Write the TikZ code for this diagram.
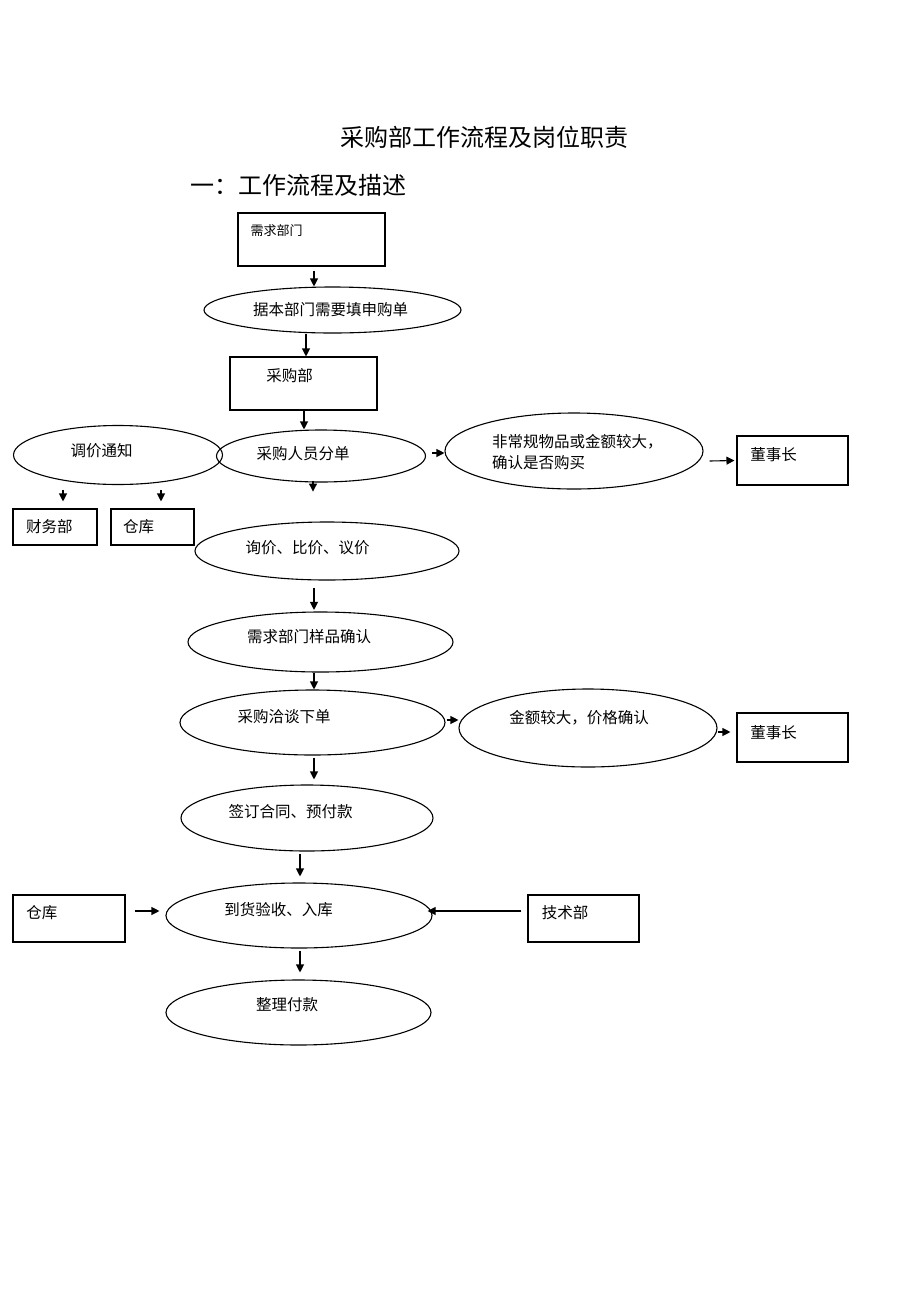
\documentclass[tikz,border=0pt]{standalone}
\usepackage{fontspec}
\setmainfont{Noto Sans CJK SC}
\usetikzlibrary{shapes.geometric,arrows.meta}
\tikzset{
  box/.style={draw,line width=1.1pt,rectangle,inner sep=0pt},
  oval/.style={draw,line width=1.1pt,ellipse,inner sep=0pt},
  txt/.style={inner sep=0pt,font=\fontsize{15.5}{21}\selectfont},
  small/.style={inner sep=0pt,font=\fontsize{13}{15}\selectfont},
  big/.style={inner sep=0pt,font=\fontsize{24}{26}\selectfont},
  arr/.style={line width=1.1pt,-{Triangle[length=8pt,width=8pt]}}
}
\begin{document}
\begin{tikzpicture}[x=1pt,y=-1pt]
\useasboundingbox (0,0) rectangle (920,1302);
% titles
\node[big] (title) at (484.5,137) {采购部工作流程及岗位职责};
\node[big,anchor=west] (sub) at (190,185) {一：工作流程及描述};
% shapes
\node[box,minimum width=147pt,minimum height=53pt] (n1) at (311.5,239.5) {};
\node[oval,minimum width=257pt,minimum height=46pt] (e1) at (332.5,310) {};
\node[box,minimum width=147pt,minimum height=53pt] (n2) at (303.5,383.5) {};
\node[oval,minimum width=209pt,minimum height=52pt] (e2) at (321,456) {};
\node[oval,minimum width=209pt,minimum height=59pt] (e3) at (118,455) {};
\node[box,minimum width=84pt,minimum height=36pt] (b1) at (55,527) {};
\node[box,minimum width=83pt,minimum height=36pt] (b2) at (152.5,527) {};
\node[oval,minimum width=258pt,minimum height=76pt] (e4) at (574,451) {};
\node[box,minimum width=111pt,minimum height=49pt] (d1) at (792.5,460.5) {};
\node[oval,minimum width=264pt,minimum height=58pt] (e5) at (327,551) {};
\node[oval,minimum width=265pt,minimum height=60pt] (e6) at (320.5,642) {};
\node[oval,minimum width=265pt,minimum height=65pt] (e7) at (312.5,722.5) {};
\node[oval,minimum width=258pt,minimum height=78pt] (e8) at (588,728) {};
\node[box,minimum width=111pt,minimum height=49pt] (d2) at (792.5,737.5) {};
\node[oval,minimum width=252pt,minimum height=66pt] (e9) at (307,818) {};
\node[oval,minimum width=266pt,minimum height=65pt] (e10) at (299,915.5) {};
\node[box,minimum width=112pt,minimum height=47pt] (w1) at (69,918.5) {};
\node[box,minimum width=111pt,minimum height=47pt] (t1) at (583.5,918.5) {};
\node[oval,minimum width=265pt,minimum height=65pt] (e11) at (298.5,1012.5) {};
% texts
\node[small] (ln1) at (276.5,231) {需求部门};
\node[txt] (le1) at (330.5,310) {据本部门需要填申购单};
\node[txt] (ln2) at (289.5,376) {采购部};
\node[txt] (le2) at (303,454) {采购人员分单};
\node[txt] (le3) at (101.5,450.5) {调价通知};
\node[txt] (lb1) at (49.5,527) {财务部};
\node[txt] (lb2) at (138.5,527) {仓库};
\node[txt,anchor=west,align=left] (le4) at (492,452.5) {非常规物品或金额较大，\\确认是否购买};
\node[txt] (ld1) at (773.5,455) {董事长};
\node[txt] (le5) at (307.5,547.5) {询价、比价、议价};
\node[txt] (le6) at (309,637) {需求部门样品确认};
\node[txt] (le7) at (284,717) {采购洽谈下单};
\node[txt] (le8) at (579,718) {金额较大，价格确认};
\node[txt] (ld2) at (773.5,733) {董事长};
\node[txt] (le9) at (290.5,812) {签订合同、预付款};
\node[txt] (le10) at (278.5,910) {到货验收、入库};
\node[txt] (lw1) at (42,913) {仓库};
\node[txt] (lt1) at (565,913) {技术部};
\node[txt] (le11) at (287,1005) {整理付款};
% connectors
\draw[arr] ([xshift=2.5pt,yshift=-4pt]n1.south) -- ([xshift=-18.5pt]e1.north);
\draw[arr] ([xshift=-26.5pt]e1.south) -- ([xshift=2.5pt]n2.north);
\draw[arr] ([xshift=0.5pt]n2.south) -- ([xshift=-17pt]e2.north);
\draw[arr] ([xshift=-8pt,yshift=2pt]e2.south) -- ([xshift=-8pt,yshift=-9pt]e2.south);
\draw[arr] ([xshift=-55pt,yshift=-5pt]e3.south) -- ([xshift=8pt,yshift=7pt]b1.north);
\draw[arr] ([xshift=43pt,yshift=-5pt]e3.south) -- ([xshift=8.5pt,yshift=7pt]b2.north);
\draw[arr] ([xshift=6pt,yshift=3pt]e2.east) -- ([yshift=-2pt]e4.west);
\draw[arr] ([xshift=6pt,yshift=-10pt]e4.east) -- ([xshift=-2pt]d1.west);
\draw[arr] ([xshift=-13pt,yshift=-7pt]e5.south) -- ([xshift=-6.5pt,yshift=1.5pt]e6.north);
\draw[arr] ([xshift=-6.5pt]e6.south) -- ([xshift=1.5pt]e7.north);
\draw[arr] ([xshift=1pt,yshift=2.5pt]e7.east) -- ([yshift=8pt]e8.west);
\draw[arr] ([yshift=-4pt]e8.east) -- ([xshift=-6pt,yshift=5.5pt]d2.west);
\draw[arr] ([xshift=1.5pt,yshift=-2pt]e7.south) -- ([xshift=7pt,yshift=5pt]e9.north);
\draw[arr] ([xshift=-7pt,yshift=-2pt]e9.south) -- ([xshift=1pt,yshift=6pt]e10.north);
\draw[arr] ([xshift=9pt,yshift=7.5pt]w1.east) -- ([xshift=-6pt,yshift=4.5pt]e10.west);
\draw[arr] ([xshift=-6pt,yshift=7.5pt]t1.west) -- ([xshift=-5pt,yshift=4.5pt]e10.east);
\draw[arr] ([xshift=1pt,yshift=-2pt]e10.south) -- ([xshift=1.5pt,yshift=7pt]e11.north);
\end{tikzpicture}
\end{document}
